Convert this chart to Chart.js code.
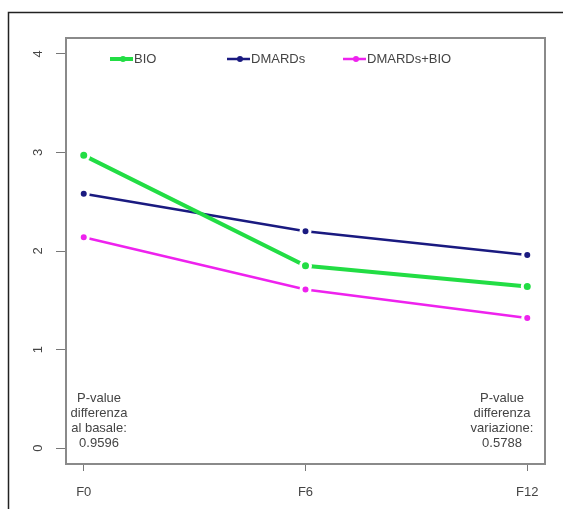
<!DOCTYPE html>
<html><head><meta charset="utf-8">
<script src="https://cdn.jsdelivr.net/npm/chart.js@4/dist/chart.umd.min.js"></script>
<style>html,body{margin:0;padding:0;background:#fff}#wrap{width:563px;height:509px;position:relative}</style>
</head><body><div id="wrap"><canvas id="c" width="563" height="509"></canvas></div>
<script>
const categories = ['F0', 'F6', 'F12'];
const months = [0, 6, 12];
const yTicks = [0, 1, 2, 3, 4];
const seriesNames = ['BIO', 'DMARDs', 'DMARDs+BIO'];
const bio = [2.97, 1.85, 1.64];
const dmards = [2.58, 2.20, 1.96];
const dmardsBio = [2.14, 1.61, 1.32];
const noteLeft = ['P-value', 'differenza', 'al basale:', '0.9596'];
const noteRight = ['P-value', 'differenza', 'variazione:', '0.5788'];

const colors = ['#22dd44', '#1a1a80', '#ee22ee'];
const widths = [4, 2.5, 2.5];
const FONT = '13px "Liberation Sans", Arial, sans-serif';
const TXT = '#444';

function pts(arr) { return arr.map((v, i) => ({ x: months[i], y: v })); }
const seriesValues = [bio, dmards, dmardsBio];

const framePlugin = {
  id: 'frame',
  beforeDraw(chart) {
    const ctx = chart.ctx;
    ctx.save();
    ctx.fillStyle = '#fff';
    ctx.fillRect(0, 0, chart.width, chart.height);
    ctx.strokeStyle = '#222';
    ctx.lineWidth = 1.5;
    ctx.beginPath();
    ctx.moveTo(8.5, chart.height + 5);
    ctx.lineTo(8.5, 12.5);
    ctx.lineTo(chart.width + 5, 12.5);
    ctx.stroke();
    ctx.restore();
  },
  afterDraw(chart) {
    const ctx = chart.ctx, a = chart.chartArea;
    ctx.save();
    ctx.strokeStyle = '#8a8a8a';
    ctx.lineWidth = 2;
    ctx.strokeRect(a.left, a.top, a.right - a.left, a.bottom - a.top);
    // legend
    ctx.font = FONT;
    ctx.textBaseline = 'middle';
    ctx.textAlign = 'left';
    const ly = 59;
    const lx = [110, 227, 343];
    chart.data.datasets.forEach((ds, i) => {
      const x0 = lx[i];
      ctx.strokeStyle = ds.borderColor;
      ctx.lineWidth = ds.borderWidth;
      ctx.beginPath(); ctx.moveTo(x0, ly); ctx.lineTo(x0 + 23, ly); ctx.stroke();
      ctx.fillStyle = ds.borderColor;
      ctx.beginPath(); ctx.arc(x0 + 13, ly, 3, 0, Math.PI * 2); ctx.fill();
      ctx.fillStyle = TXT;
      ctx.fillText(ds.label, x0 + 24, ly);
    });
    // notes
    ctx.textAlign = 'center';
    noteLeft.forEach((t, i) => ctx.fillText(t, 99, 398 + 15 * i));
    noteRight.forEach((t, i) => ctx.fillText(t, 502, 398 + 15 * i));
    ctx.restore();
  }
};

new Chart(document.getElementById('c'), {
  type: 'line',
  data: {
    datasets: seriesNames.map((name, i) => ({
      label: name,
      data: pts(seriesValues[i]),
      borderColor: colors[i],
      backgroundColor: colors[i],
      borderWidth: widths[i],
      pointBackgroundColor: colors[i],
      pointBorderColor: '#ffffff',
      pointBorderWidth: 3,
      pointRadius: i === 0 ? 5 : 4.5,
      tension: 0,
      fill: false
    }))
  },
  options: {
    responsive: false,
    animation: false,
    devicePixelRatio: 1,
    layout: { padding: { top: 38, right: 18, left: 0, bottom: 0 } },
    plugins: { legend: { display: false }, tooltip: { enabled: false } },
    scales: {
      x: {
        type: 'linear', min: -0.48, max: 12.48,
        afterBuildTicks: s => { s.ticks = months.map(v => ({ value: v })); },
        afterFit: s => { s.height = 45; },
        ticks: {
          autoSkip: false, maxRotation: 0, minRotation: 0, padding: 14,
          color: TXT, font: { family: '"Liberation Sans", Arial, sans-serif', size: 13 },
          callback: v => categories[months.indexOf(v)]
        },
        grid: { drawOnChartArea: false, tickLength: 7, color: '#777', lineWidth: 1 },
        border: { display: false }
      },
      y: {
        type: 'linear', min: -0.16, max: 4.16,
        afterBuildTicks: s => { s.ticks = yTicks.map(v => ({ value: v })); },
        afterFit: s => { s.width = 66; },
        ticks: {
          minRotation: 90, maxRotation: 90, crossAlign: 'center', padding: 14,
          color: TXT, font: { family: '"Liberation Sans", Arial, sans-serif', size: 13 },
          callback: v => String(v)
        },
        grid: { drawOnChartArea: false, tickLength: 10, color: '#777', lineWidth: 1 },
        border: { display: false }
      }
    }
  },
  plugins: [framePlugin]
});
</script></body></html>
